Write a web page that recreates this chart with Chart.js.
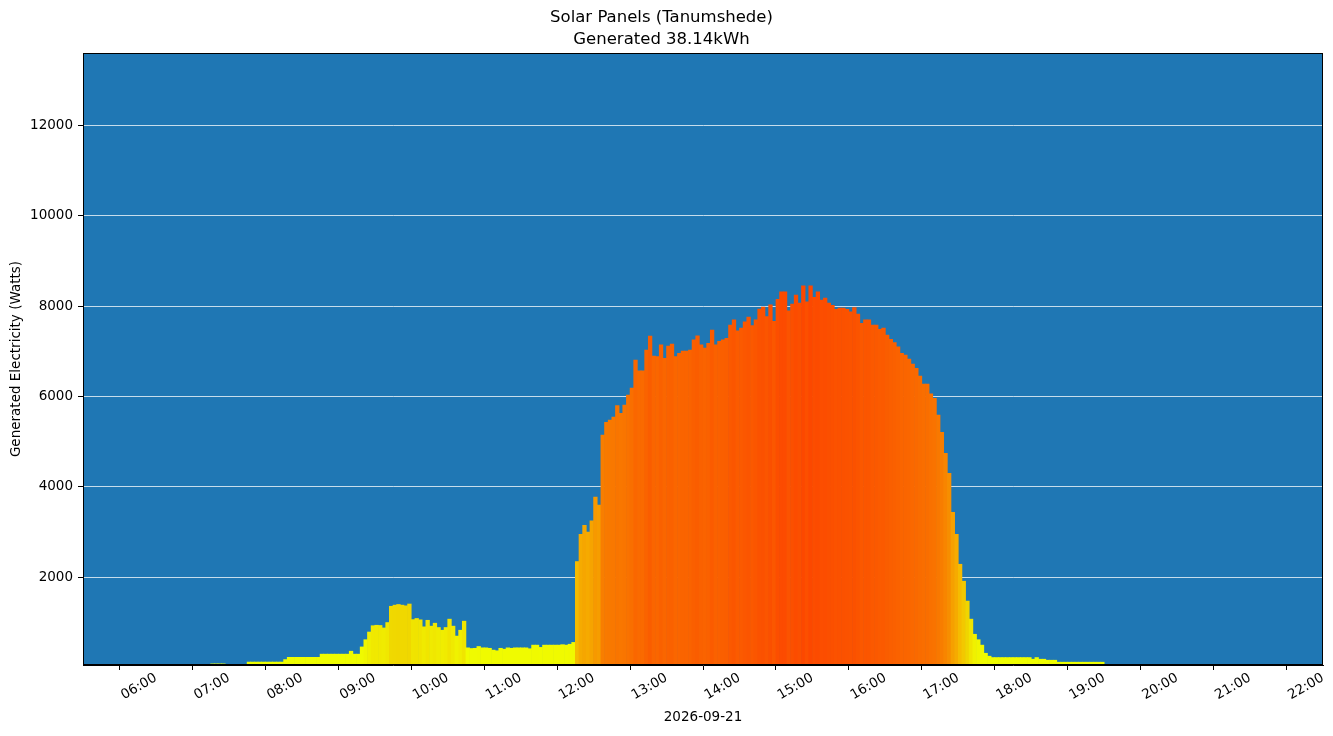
<!DOCTYPE html>
<html lang="en">
<head>
  <meta charset="UTF-8">
  <title>Solar Panels (Tanumshede)</title>
  <script src="https://cdn.jsdelivr.net/npm/chart.js@4.4.1/dist/chart.umd.min.js"></script>
  <style>
    html, body { margin: 0; padding: 0; background: #fff; }
    #chart-box { width: 1333px; height: 736px; }
  </style>
</head>
<body>
  <div id="chart-box"><canvas id="solar-chart" width="1333" height="736"></canvas></div>

  <script>
    // Text
    const chartTitle = ["Solar Panels (Tanumshede)", "Generated 38.14kWh"];
    const dateLabel = "2026-09-21";
    const yLabel = "Generated Electricity (Watts)";

    // Readings every 3 minutes, first one at 06:45
    const firstReading = "06:45";
    const stepMinutes = 3;
    const watts = [
      85, 85, 85, 85, 0,
      0, 0, 0, 0, 0, 125, 125, 125, 125, 125, 125, 125, 125, 125, 125, 180, 230, 230, 230, 230,
      230, 230, 230, 230, 230, 300, 300, 300, 300, 300, 300, 300, 300, 365, 300, 300, 460, 620, 790, 930,
      940, 935, 880, 1000, 1360, 1385, 1400, 1385, 1370, 1410, 1065, 1090, 1060, 905, 1050, 920, 985, 890, 830, 890,
      1075, 920, 700, 830, 1030, 440, 425, 430, 470, 440, 440, 430, 390, 375, 430, 410, 440, 430, 440, 440,
      440, 440, 420, 500, 500, 450, 500, 500, 500, 500, 500, 510, 500, 520, 560, 2350, 2950, 3150, 3000, 3250,
      3775, 3600, 5150, 5430, 5480, 5550, 5800, 5630, 5815, 6035, 6190, 6810, 6570, 6570, 7030, 7340, 6900, 6885, 7145, 6850,
      7120, 7165, 6885, 6960, 7010, 7010, 7030, 7255, 7345, 7145, 7075, 7180, 7475, 7145, 7225, 7255, 7290, 7585, 7700, 7455,
      7515, 7655, 7760, 7575, 7700, 7940, 7980, 7770, 8030, 7665, 8155, 8320, 8320, 7900, 8050, 8250, 8070, 8450, 8100, 8450,
      8200, 8320, 8140, 8180, 8070, 8020, 7935, 7960, 7960, 7930, 7880, 7970, 7830, 7625, 7700, 7700, 7585, 7585, 7490, 7520,
      7360, 7270, 7195, 7105, 6960, 6920, 6830, 6720, 6625, 6455, 6280, 6280, 6060, 5960, 5590, 5210, 4745, 4300, 3440, 2950,
      2290, 1915, 1475, 1075, 740, 620, 500, 320, 255, 225, 225, 225, 225, 225, 225, 225, 225, 225, 225, 225,
      188, 225, 188, 188, 166, 166, 166, 122, 122, 122, 122, 122, 122, 122, 122, 122, 122, 122, 122, 122
    ];

    const hourTicks = [6, 7, 8, 9, 10, 11, 12, 13, 14, 15, 16, 17, 18, 19, 20, 21, 22];
    const wattTicks = [2000, 4000, 6000, 8000, 10000, 12000];

    // yellow -> orange -> red-orange, by watts
    const colourStops = [
      [0, [238, 255, 0]],
      [500, [240, 250, 0]],
      [1400, [240, 215, 0]],
      [2300, [245, 188, 0]],
      [3200, [246, 165, 0]],
      [5000, [248, 128, 0]],
      [7000, [250, 100, 0]],
      [8450, [252, 72, 0]]
    ];
    function barColour(v) {
      for (let i = 1; i < colourStops.length; i++) {
        const [v1, c1] = colourStops[i];
        if (v <= v1) {
          const [v0, c0] = colourStops[i - 1];
          const t = (v - v0) / (v1 - v0);
          const c = c0.map((x, k) => Math.round(x + (c1[k] - x) * t));
          return `rgb(${c[0]},${c[1]},${c[2]})`;
        }
      }
      const c = colourStops[colourStops.length - 1][1];
      return `rgb(${c[0]},${c[1]},${c[2]})`;
    }

    const [h0, m0] = firstReading.split(":").map(Number);
    const points = watts.map((w, i) => ({
      x: h0 + (m0 + i * stepMinutes + stepMinutes / 2) / 60,
      y: w
    }));

    Chart.defaults.font.family = "'DejaVu Sans', sans-serif";
    Chart.defaults.font.size = 13.5;
    Chart.defaults.color = "#000";

    const plotBackground = {
      id: "plotBackground",
      beforeDraw(chart) {
        const { ctx, chartArea: a } = chart;
        ctx.save();
        ctx.fillStyle = "#1f77b4";
        ctx.fillRect(a.left, a.top, a.width, a.height);
        ctx.restore();
      },
      afterDraw(chart) {
        const { ctx, chartArea: a } = chart;
        ctx.save();
        ctx.strokeStyle = "#000";
        ctx.lineWidth = 1;
        ctx.strokeRect(Math.round(a.left) + 0.5, Math.round(a.top) + 0.5,
          Math.round(a.width) - 1, Math.round(a.height) - 1);
        ctx.restore();
      }
    };

    new Chart(document.getElementById("solar-chart"), {
      type: "bar",
      data: {
        datasets: [{
          label: "Generated",
          data: points,
          backgroundColor: watts.map(barColour),
          borderWidth: 0,
          barPercentage: 1,
          categoryPercentage: 1
        }]
      },
      options: {
        responsive: false,
        animation: false,
        devicePixelRatio: 1,
        layout: { padding: { left: 0, right: 10, top: 0, bottom: 0 } },
        plugins: {
          legend: { display: false },
          tooltip: { enabled: false },
          title: {
            display: true,
            text: chartTitle,
            color: "#000",
            font: { size: 16.5, weight: "normal", lineHeight: 1.32 },
            padding: { top: 7, bottom: 2.5 }
          }
        },
        scales: {
          x: {
            type: "linear",
            min: 5,
            max: 22,
            offset: false,
            afterBuildTicks: s => { s.ticks = hourTicks.map(h => ({ value: h })); },
            afterFit: s => { s.height = 71; },
            ticks: {
              autoSkip: false,
              minRotation: 30,
              maxRotation: 30,
              padding: 0,
              callback: v => String(v).padStart(2, "0") + ":00"
            },
            grid: { drawOnChartArea: false, tickColor: "#000", tickLength: 5 },
            border: { color: "#000" },
            title: { display: true, text: dateLabel, font: { size: 13.5 }, padding: { top: 0, bottom: 10 } }
          },
          y: {
            min: 60,
            max: 13605,
            z: 1,
            afterBuildTicks: s => { s.ticks = wattTicks.map(v => ({ value: v })); },
            afterFit: s => { s.width = 83; },
            ticks: { padding: 5, callback: v => String(v) },
            grid: { color: "rgba(255,255,255,0.75)", lineWidth: 1, tickColor: "#000", tickLength: 5 },
            border: { color: "#000" },
            title: { display: true, text: yLabel, font: { size: 13.5 }, padding: { top: 8, bottom: 0 } }
          }
        }
      },
      plugins: [plotBackground]
    });
  </script>
</body>
</html>
